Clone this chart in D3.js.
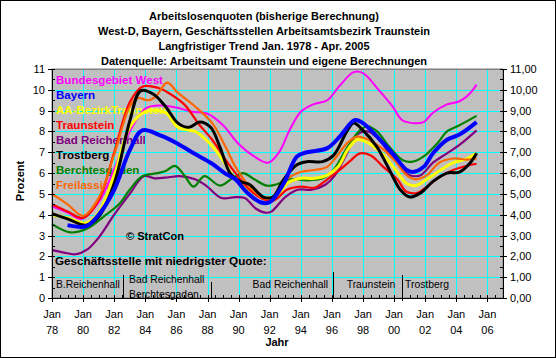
<!DOCTYPE html>
<html><head><meta charset="utf-8">
<script src="https://cdn.jsdelivr.net/npm/d3@7"></script>
<style>
body{margin:0;background:#fff}
text{font-family:"Liberation Sans",Arial,Helvetica,sans-serif;fill:#000}
</style>
</head><body>
<svg id="chart" width="556" height="358"></svg>
<script>
// ---------------- DATA ----------------
const titleLines = [
  "Arbeitslosenquoten (bisherige Berechnung)",
  "West-D, Bayern, Geschäftsstellen Arbeitsamtsbezirk Traunstein",
  "Langfristiger Trend Jan. 1978 - Apr. 2005",
  "Datenquelle: Arbeitsamt Traunstein und eigene Berechnungen"
];
const seriesNames = ["Bundesgebiet West","Bayern","AA-BezirkTraunstein","Traunstein","Bad Reichenhall","Trostberg","Berchtesgaden","Freilassing"];
const seriesColors = ["#FF00FF","#0000FF","#FFFF00","#FF0000","#800080","#000000","#008000","#FF6600"];

// [decimal year, percent]
const bundesgebietWest = [[1978,4.4],[1979,4.1],[1979.9,3.8],[1981,4.6],[1982,6.2],[1983,8.0],[1984,9.1],[1985,9.25],[1986,9.15],[1987,8.95],[1988,8.85],[1989,8.3],[1990,7.4],[1991,6.8],[1991.9,6.5],[1992.6,7.0],[1993.3,8.1],[1994,8.95],[1994.8,9.3],[1995.7,9.5],[1996.5,10.2],[1997.4,10.85],[1998,10.8],[1999,10.0],[1999.9,9.2],[2000.5,8.55],[2001.2,8.4],[2001.9,8.45],[2002.5,8.9],[2003.4,9.3],[2004.2,9.45],[2004.9,9.85],[2005.3,10.25]];
const bayern = [[1979,3.5],[1980.2,3.45],[1981,4.0],[1982,5.2],[1983,7.1],[1983.8,8.05],[1985,7.8],[1986,7.45],[1987,7.0],[1988.3,6.45],[1989.1,6.0],[1989.8,5.7],[1990.5,5.1],[1991.4,4.6],[1992,4.6],[1992.9,5.5],[1993.75,6.8],[1994.4,7.0],[1995.7,7.2],[1996.5,7.75],[1997.2,8.4],[1997.5,8.55],[1998,8.4],[1998.9,7.75],[1999.9,6.95],[2000.8,6.15],[2001.2,6.05],[2001.9,6.3],[2002.5,6.95],[2003.4,7.6],[2004.2,7.85],[2005.3,8.45]];
const aaBezirk = [[1978,4.0],[1979,3.85],[1980.2,3.6],[1981,4.1],[1982,5.9],[1983,8.2],[1984,8.95],[1985.3,8.9],[1986.1,8.2],[1987.2,8.0],[1987.6,7.8],[1988.3,7.3],[1989.1,6.5],[1989.7,5.8],[1990.7,5.2],[1991.8,4.8],[1992.5,4.85],[1993.1,5.5],[1994,5.75],[1994.9,5.75],[1995.7,5.9],[1996.4,6.3],[1997,7.1],[1997.6,7.6],[1998.2,7.5],[1999.2,6.95],[2000.1,6.15],[2000.8,5.5],[2001.4,5.4],[2002.1,5.7],[2003,6.15],[2003.8,6.5],[2004.7,6.7],[2005.3,6.95]];
const traunstein = [[1978,4.5],[1979,4.15],[1980,3.85],[1981,4.7],[1982,7.0],[1983,9.4],[1983.8,10.15],[1984.8,10.1],[1985.5,9.85],[1986.5,9.3],[1987.5,8.3],[1988.3,7.6],[1989.2,6.6],[1989.8,6.0],[1990.7,5.2],[1991.6,4.75],[1992.3,4.7],[1993.1,5.2],[1994,5.35],[1994.9,5.3],[1995.7,5.7],[1996.5,6.15],[1997.2,6.6],[1997.8,6.95],[1998.5,6.85],[1999.3,6.3],[2000.2,5.7],[2000.8,5.1],[2001.5,5.05],[2002.1,5.35],[2002.9,5.8],[2003.8,6.15],[2004.7,6.35],[2005.3,6.45]];
const badReichenhall = [[1978,2.3],[1979,2.15],[1979.5,2.1],[1980.3,2.35],[1981,2.9],[1982,4.0],[1983,5.0],[1983.9,5.85],[1984.6,5.75],[1985.5,5.8],[1986.2,5.85],[1987.2,5.7],[1987.9,5.4],[1988.9,4.8],[1989.8,4.85],[1990.4,4.8],[1991.1,4.3],[1991.7,4.1],[1992.1,4.15],[1993,4.85],[1993.8,5.2],[1994.7,5.2],[1995.6,5.45],[1996.2,5.9],[1997,7.0],[1997.6,7.85],[1998.3,8.0],[1998.9,7.7],[1999.7,6.95],[2000.4,6.3],[2001,5.9],[2001.7,5.9],[2002.5,6.5],[2003.4,6.95],[2004.2,7.35],[2005.3,8.05]];
const trostberg = [[1978,4.05],[1979,3.8],[1980.2,3.5],[1981,3.9],[1982,5.5],[1983,8.5],[1983.7,9.95],[1984.5,9.8],[1985.3,9.2],[1986.1,8.4],[1986.8,8.2],[1987.5,8.45],[1988.2,8.2],[1988.8,7.25],[1989.45,6.0],[1990.1,5.6],[1990.7,5.45],[1991.6,4.85],[1992.2,4.85],[1992.9,5.7],[1993.75,6.4],[1994.4,6.55],[1995.4,6.55],[1996.1,6.85],[1997,8.05],[1997.4,8.4],[1998,8.05],[1998.9,7.25],[1999.7,6.15],[2000.4,5.2],[2001,4.85],[2001.7,5.05],[2002.5,5.6],[2003.4,6.0],[2004.2,6.05],[2004.9,6.5],[2005.3,6.95]];
const berchtesgaden = [[1978,3.55],[1979.2,3.15],[1980.3,3.35],[1981.3,3.9],[1982.3,4.5],[1983,5.2],[1983.8,5.85],[1984.8,6.0],[1985.3,6.1],[1985.9,6.35],[1986.5,5.9],[1987.1,5.35],[1987.8,5.85],[1988.8,5.4],[1989.6,5.75],[1990.3,6.0],[1990.9,5.75],[1991.8,5.4],[1992.4,5.45],[1993.3,5.7],[1994.4,5.65],[1995.4,5.75],[1996.1,6.15],[1997,7.25],[1997.8,8.05],[1998.3,8.25],[1998.9,8.0],[1999.7,7.25],[2000.6,6.6],[2001.2,6.55],[2001.9,6.8],[2002.8,7.45],[2003.4,8.0],[2004.2,8.3],[2005.3,8.75]];
const freilassing = [[1978,5.0],[1979,4.5],[1980,3.95],[1981,4.8],[1982,6.9],[1983,9.2],[1983.5,9.6],[1984.2,9.5],[1984.7,9.7],[1985.4,10.35],[1986.1,9.85],[1987.2,9.2],[1988.3,8.4],[1989.2,7.2],[1989.8,6.3],[1990.7,5.35],[1991.6,4.8],[1992.3,4.8],[1993.1,5.7],[1994,6.05],[1994.9,6.15],[1995.7,6.3],[1996.3,6.8],[1997,7.45],[1997.6,7.75],[1998.2,7.65],[1999.2,7.2],[2000.1,6.55],[2000.8,5.9],[2001.4,5.7],[2002.1,5.9],[2002.9,6.5],[2003.8,6.7],[2004.7,6.65],[2005.3,6.7]];
const seriesData = [bundesgebietWest,bayern,aaBezirk,traunstein,badReichenhall,trostberg,berchtesgaden,freilassing];

const xTickYears = [1978,1980,1982,1984,1986,1988,1990,1992,1994,1996,1998,2000,2002,2004,2006];
const yTicks = [0,1,2,3,4,5,6,7,8,9,10,11];
const lowestQuoteBreaks = [1982.57,1988.2,1996.1,2000.5];
const lowestQuoteLabels = [["B.Reichenhall"],["Bad Reichenhall","Berchtesgaden"],["Bad Reichenhall"],["Traunstein"],["Trostberg"]];
const lowestQuoteLabelYears = [1978.25,1982.95,1990.9,1996.95,2000.7];

// ---------------- DRAW ----------------
const svg = d3.select("#chart");
const W = 556, H = 358;
const plot = {l:52, r:503, t:69, b:298};
const x = d3.scaleLinear().domain([1978,2007]).range([plot.l, plot.r]);
const y = d3.scaleLinear().domain([0,11]).range([plot.b, plot.t]);
const F = '"Liberation Sans",Arial,sans-serif';

function fit(sel, target){
  const w = sel.node().getComputedTextLength();
  const fs = parseFloat(sel.attr("font-size"));
  return fs * target / w;
}

svg.append("rect").attr("x",0.5).attr("y",0.5).attr("width",W-1).attr("height",H-1)
  .attr("fill","#fff").attr("stroke","#000");

// plot area
svg.append("rect").attr("x",plot.l).attr("y",plot.t).attr("width",plot.r-plot.l).attr("height",plot.b-plot.t)
  .attr("fill","#C0C0C0").attr("stroke","#808080");

// grid
const g = svg.append("g");
g.selectAll(".hg").data(yTicks.filter(d=>d>0&&d<11)).join("line")
  .attr("x1",plot.l).attr("x2",plot.r).attr("y1",d=>Math.round(y(d))+0.5).attr("y2",d=>Math.round(y(d))+0.5)
  .attr("stroke","#00FFFF").attr("stroke-width",1);
g.selectAll(".vg").data(xTickYears.filter(d=>d>1978)).join("line")
  .attr("y1",plot.t).attr("y2",plot.b).attr("x1",d=>Math.round(x(d))+0.5).attr("x2",d=>Math.round(x(d))+0.5)
  .attr("stroke","#00FFFF").attr("stroke-width",1);
svg.append("line").attr("x1",plot.l).attr("x2",plot.r).attr("y1",plot.t+0.5).attr("y2",plot.t+0.5).attr("stroke","#808080");

// legend texts (beneath the lines, as in the reference)
const lg = svg.append("g");
seriesNames.forEach((n,i)=>{
  lg.append("text").attr("x",56).attr("y",83.5+i*15).attr("font-weight","bold").attr("font-size",11)
    .style("fill",seriesColors[i]).text(n);
});
const lfs = fit(lg.selectAll("text").filter((d,i)=>i===0), 107);
lg.selectAll("text").attr("font-size",lfs);

const sc = svg.append("text").attr("x",126).attr("y",240).attr("font-weight","bold").attr("font-size",11).text("© StratCon");
sc.attr("font-size",fit(sc,58));
const gq = svg.append("text").attr("x",55).attr("y",264.5).attr("font-weight","bold").attr("font-size",11).text("Geschäftsstelle mit niedrigster Quote:");
gq.attr("font-size",fit(gq,212));

// lines
const line = d3.line().x(d=>x(d[0])).y(d=>y(d[1])).curve(d3.curveCatmullRom.alpha(0.5));
const widths = [2,4,3,2.2,2.2,3,2.2,2.2];
const order = [0,4,6,2,3,7,5,1];
order.forEach(i=>{
  svg.append("path").datum(seriesData[i]).attr("d",line).attr("fill","none")
    .attr("stroke",seriesColors[i]).attr("stroke-width",widths[i]).attr("stroke-linejoin","round");
});

// axes
const axL = d3.axisLeft(y).tickValues(yTicks).tickSize(0).tickPadding(7).tickFormat(d3.format("d"));
const axR = d3.axisRight(y).tickValues(yTicks).tickSize(0).tickPadding(7).tickFormat(d=>d3.format(".2f")(d).replace(".",","));
const gl = svg.append("g").attr("transform",`translate(${plot.l},0)`).call(axL);
const gr = svg.append("g").attr("transform",`translate(${plot.r},0)`).call(axR);
[gl,gr].forEach(a=>{a.select(".domain").attr("stroke","#000"); a.selectAll("text").attr("font-size",11).attr("font-family",F).attr("fill","#000");});
const minorY = d3.range(0,11.01,0.5);
svg.append("g").selectAll("line").data(minorY).join("line")
  .attr("x1",d=>plot.l-(d%1===0?4:0)).attr("x2",d=>plot.l+3)
  .attr("y1",d=>Math.round(y(d))+0.5).attr("y2",d=>Math.round(y(d))+0.5).attr("stroke","#000");
svg.append("g").selectAll("line").data(minorY).join("line")
  .attr("x1",d=>plot.r-3).attr("x2",d=>plot.r+(d%1===0?4:0))
  .attr("y1",d=>Math.round(y(d))+0.5).attr("y2",d=>Math.round(y(d))+0.5).attr("stroke","#000");

const axB = d3.axisBottom(x).tickValues(xTickYears).tickSize(0).tickPadding(0).tickFormat("");
const gb = svg.append("g").attr("transform",`translate(0,${plot.b})`).call(axB);
gb.select(".domain").attr("stroke","#000");
const minorX = d3.range(1978,2007.01,0.5);
svg.append("g").selectAll("line").data(minorX).join("line")
  .attr("x1",d=>Math.round(x(d))+0.5).attr("x2",d=>Math.round(x(d))+0.5)
  .attr("y1",plot.b-3).attr("y2",d=>plot.b+(d%2===0?4:0)).attr("stroke","#000");
const xl = svg.append("g").selectAll("text").data(xTickYears).join("text")
  .attr("x",d=>x(d)).attr("text-anchor","middle").attr("font-size",11).attr("font-family",F);
xl.append("tspan").attr("x",d=>x(d)).attr("y",318).text("Jan");
xl.append("tspan").attr("x",d=>x(d)).attr("y",334).text(d=>String(d%100).padStart(2,"0"));

// titles
const tg = svg.append("g");
titleLines.forEach((t,i)=>{
  tg.append("text").attr("x",264).attr("y",19.5+i*15).attr("text-anchor","middle")
    .attr("font-weight","bold").attr("font-size",11).text(t);
});
const tfs = fit(tg.selectAll("text").filter((d,i)=>i===1), 332);
tg.selectAll("text").attr("font-size",tfs);

svg.append("text").attr("transform","translate(24,181) rotate(-90)").attr("text-anchor","middle")
  .attr("font-weight","bold").attr("font-size",11).text("Prozent");
svg.append("text").attr("x",277).attr("y",346).attr("text-anchor","middle")
  .attr("font-weight","bold").attr("font-size",11).text("Jahr");

// lowest quote periods
const sepTop = [275,282,272,275];
const sepBot = [298,298,298,301];
svg.append("g").selectAll("line").data(lowestQuoteBreaks).join("line")
  .attr("x1",d=>Math.round(x(d))+0.5).attr("x2",d=>Math.round(x(d))+0.5)
  .attr("y1",(d,i)=>sepTop[i]).attr("y2",(d,i)=>sepBot[i]).attr("stroke","#000");
const pl = svg.append("g");
lowestQuoteLabels.forEach((lines,i)=>{
  const t = pl.append("text").attr("font-size",11).attr("font-family",F);
  if(lines.length===1){
    t.append("tspan").attr("x",x(lowestQuoteLabelYears[i])).attr("y",288).text(lines[0]);
  } else {
    t.append("tspan").attr("x",x(lowestQuoteLabelYears[i])).attr("y",282.5).text(lines[0]);
    t.append("tspan").attr("x",x(lowestQuoteLabelYears[i])).attr("y",297.5).text(lines[1]);
  }
});
const bfs = fit(pl.select("text"),64);
pl.selectAll("text").attr("font-size",bfs);
</script>
</body></html>
